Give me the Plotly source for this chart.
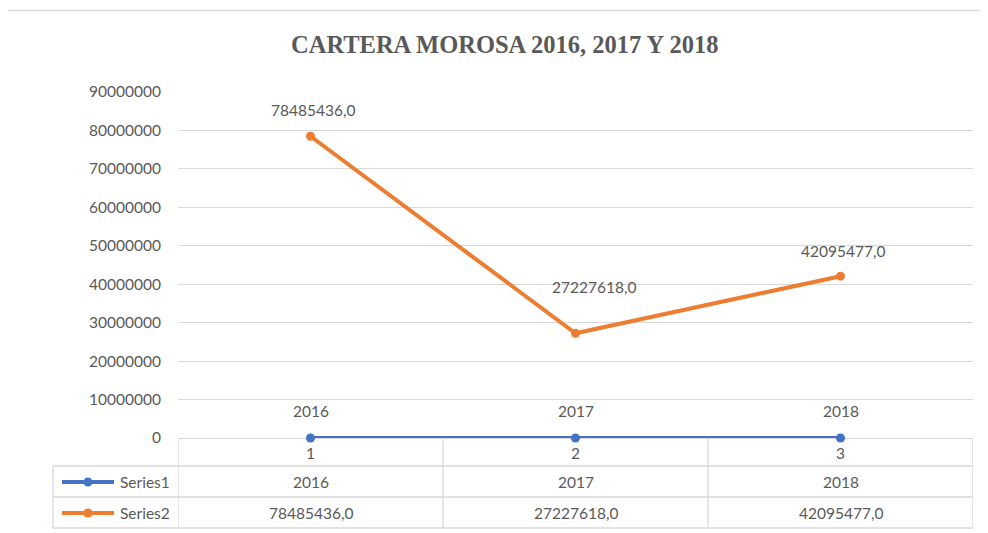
import plotly.graph_objects as go

# chart data
categories = [1, 2, 3]
category_labels = ['1', '2', '3']
series_names = ['Series1', 'Series2']
series1 = [2016, 2017, 2018]
series2 = [78485436.0, 27227618.0, 42095477.0]
y_ticks = [0, 10000000, 20000000, 30000000, 40000000, 50000000,
           60000000, 70000000, 80000000, 90000000]
title_text = 'CARTERA MOROSA 2016, 2017 Y 2018'

# styling
blue = '#4472C4'
orange = '#ED7D31'
grey_txt = '#595959'
grid = '#D9D9D9'
font = 'Lato'
fsize = 15.5

# label offsets (pixels) for the data labels
s1_shift = [(0, 27), (0, 27), (0, 27)]
s2_shift = [(2, 26), (18, 46), (2, 25)]

# page body has an 8px margin, figure is drawn from (8, 8)
OFF = 8
W, H = 988 - OFF, 533 - OFF
# plot area in screen pixels (178..973 x 92..438)
L, R, T, B = 178, 973, 92, 438
def px(x):
    return (x - L) / (R - L)
def py(y):
    return (B - y) / (B - T)

def fmt(v):
    return ('%.1f' % v).replace('.', ',')

fig = go.Figure()
fig.add_trace(go.Scatter(x=categories, y=series1, mode='lines+markers', name=series_names[0],
                         line=dict(color=blue, width=4), marker=dict(size=9, color=blue),
                         cliponaxis=False))
fig.add_trace(go.Scatter(x=categories, y=series2, mode='lines+markers', name=series_names[1],
                         line=dict(color=orange, width=4), marker=dict(size=9, color=orange),
                         cliponaxis=False))

lbl_font = dict(family=font, size=fsize, color=grey_txt)
ann = []
# data labels
for x, v, (dx, dy) in zip(categories, series1, s1_shift):
    ann.append(dict(x=x, y=v, text=str(v), showarrow=False, xshift=dx, yshift=dy,
                    xanchor='center', yanchor='middle', font=lbl_font))
for x, v, (dx, dy) in zip(categories, series2, s2_shift):
    ann.append(dict(x=x, y=v, text=fmt(v), showarrow=False, xshift=dx, yshift=dy,
                    xanchor='center', yanchor='middle', font=lbl_font))

# title
ann.append(dict(xref='paper', yref='paper', x=px(504), y=py(45), text='<b>' + title_text + '</b>',
                showarrow=False, xanchor='center', yanchor='middle',
                font=dict(family='Liberation Serif', size=24.5, color=grey_txt)))

# data table text
row_y = [py(482), py(513)]
for x, v in zip(categories, series1):
    ann.append(dict(x=x, yref='paper', y=row_y[0], text=str(v), showarrow=False,
                    xanchor='center', yanchor='middle', font=lbl_font))
for x, v in zip(categories, series2):
    ann.append(dict(x=x, yref='paper', y=row_y[1], text=fmt(v), showarrow=False,
                    xanchor='center', yanchor='middle', font=lbl_font))

shapes = []
# chart border
shapes.append(dict(type='rect', xref='paper', yref='paper', x0=px(7), x1=px(1100),
                   y0=py(700), y1=py(10.5), line=dict(color=grid, width=1.5)))
# table horizontal lines
for yy in [466, 497, 528]:
    shapes.append(dict(type='line', xref='paper', yref='paper', x0=px(53), x1=1,
                       y0=py(yy), y1=py(yy), line=dict(color=grid, width=1.3)))
# table vertical lines
shapes.append(dict(type='line', xref='paper', yref='paper', x0=px(53), x1=px(53),
                   y0=py(466), y1=py(528), line=dict(color=grid, width=1.3)))
for xv in [0.5, 1.5, 2.5, 3.5]:
    shapes.append(dict(type='line', xref='x', yref='paper', x0=xv, x1=xv,
                       y0=0, y1=py(528), line=dict(color=grid, width=1.3)))

# legend keys in the table
for name, col, yy in [(series_names[0], blue, 482), (series_names[1], orange, 513)]:
    shapes.append(dict(type='line', xref='paper', yref='paper', x0=px(62), x1=px(114),
                       y0=py(yy), y1=py(yy), line=dict(color=col, width=4)))
    shapes.append(dict(type='circle', xref='paper', yref='paper', x0=px(83.5), x1=px(92.5),
                       y0=py(yy + 4.5), y1=py(yy - 4.5), fillcolor=col, line=dict(width=0)))
    ann.append(dict(xref='paper', yref='paper', x=px(118), y=py(yy), text=name, showarrow=False,
                    xanchor='left', yanchor='middle', font=lbl_font))

fig.update_layout(
    width=W, height=H,
    margin=dict(l=L - OFF, r=W - (R - OFF), t=T - OFF, b=H - (B - OFF)),
    paper_bgcolor='white', plot_bgcolor='white',
    showlegend=False,
    annotations=ann, shapes=shapes,
    font=dict(family=font, size=fsize, color=grey_txt),
)
fig.update_xaxes(range=[0.5, 3.5], tickvals=categories, ticktext=category_labels,
                 showgrid=False, zeroline=False, showline=False, ticks='', ticklabelstandoff=4,
                 tickfont=lbl_font)
fig.update_yaxes(range=[0, 90000000], tickvals=y_ticks, tickformat='d',
                 showgrid=True, gridcolor=grid, gridwidth=1.3, zeroline=True,
                 zerolinecolor=grid, zerolinewidth=1.3, ticks='', ticklabelstandoff=16,
                 tickfont=lbl_font)

fig.write_html('out.html')
